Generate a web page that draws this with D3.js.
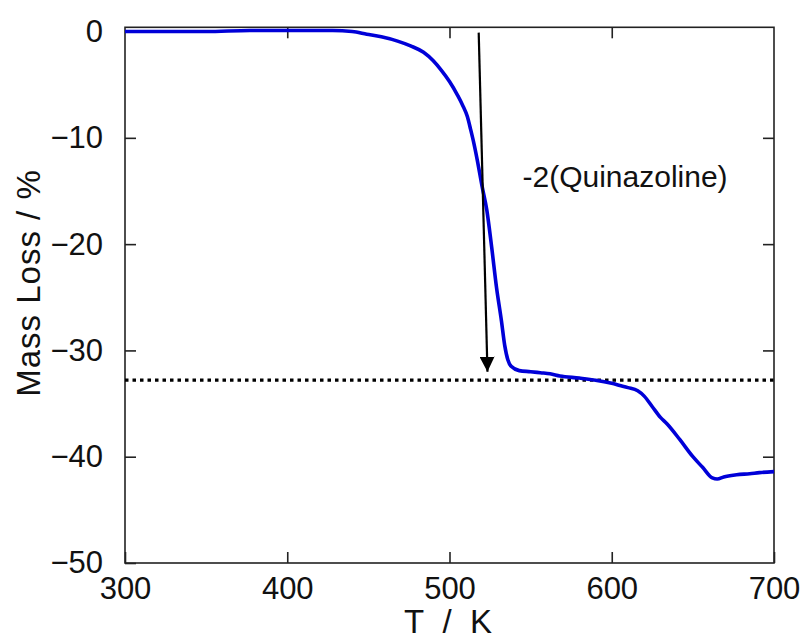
<!DOCTYPE html>
<html>
<head>
<meta charset="utf-8">
<script src="https://cdn.jsdelivr.net/npm/d3@7/dist/d3.min.js"></script>
<style>
  html, body { margin: 0; padding: 0; background: #fff; }
  svg { display: block; }
  text { font-family: "Liberation Sans", Arial, sans-serif; fill: #111; }
</style>
</head>
<body>
<svg id="chart" width="805" height="642"></svg>
<script>
// ---- data ----
const temperatureK = [300,350,377,400,428,440,449,458,468,476,484,490,495,500,505,508,511,513,515,517,520,523,526,529,532,534,536,538,543,550,556,562,568,580,590,600,605,610,616,620,625,630,634,642,650,656,662,665,669,677,685,691,700];
const massLoss = [0,0,0.1,0.1,0.1,0,-0.25,-0.5,-0.9,-1.35,-1.95,-2.75,-3.65,-4.7,-6.0,-6.9,-8.0,-9.2,-10.5,-12.0,-14.5,-16.8,-20.3,-24.1,-27.2,-29.5,-30.9,-31.5,-31.9,-32.0,-32.1,-32.2,-32.4,-32.6,-32.8,-33.1,-33.3,-33.5,-33.8,-34.3,-35.3,-36.3,-36.9,-38.4,-40.0,-41.0,-42.0,-42.1,-41.9,-41.7,-41.6,-41.5,-41.4];
const xTicks = [300,400,500,600,700];
const yTicks = [0,-10,-20,-30,-40,-50];
const referenceLevel = [-32.8];
const arrowStart = [518, -0.1];
const arrowEnd = [523.4, -32.0];
const annotation = { text: "-2(Quinazoline)", T: 545, m: -14.6 };
const xLabel = "T / K";
const yLabel = "Mass Loss / %";

// ---- layout ----
const svg = d3.select("#chart");
const mLeft = 125, mRight = 774, mTop = 27.3, mBottom = 563;
const x = d3.scaleLinear().domain([300, 700]).range([mLeft, mRight]);
const y = d3.scaleLinear().domain([-50, 0.4]).range([mBottom, mTop]);
const tickLen = 11;

// frame
svg.append("rect")
  .attr("x", mLeft).attr("y", mTop)
  .attr("width", mRight - mLeft).attr("height", mBottom - mTop)
  .attr("fill", "none").attr("stroke", "#222").attr("stroke-width", 1.6);

// axes (inward ticks)
const fmt = d => d < 0 ? "\u2212" + Math.abs(d) : String(d);
const bottomAxis = d3.axisBottom(x).tickValues(xTicks).tickSize(-tickLen).tickPadding(tickLen + 3).tickFormat(fmt);
const leftAxis = d3.axisLeft(y).tickValues(yTicks).tickSize(-tickLen).tickPadding(tickLen + 11).tickFormat(fmt);
const topAxis = d3.axisTop(x).tickValues(xTicks.slice(1, -1)).tickSize(-tickLen).tickFormat("");
const rightAxis = d3.axisRight(y).tickValues(yTicks.slice(1, -1)).tickSize(-tickLen).tickFormat("");

function styleAxis(g) {
  g.select(".domain").remove();
  g.selectAll(".tick line").attr("stroke", "#222").attr("stroke-width", 1.6);
  g.selectAll(".tick text").attr("font-family", "'Liberation Sans', Arial, sans-serif").attr("font-size", 31).attr("fill", "#111");
}
svg.append("g").attr("transform", `translate(0,${mBottom})`).call(bottomAxis).call(styleAxis);
svg.append("g").attr("transform", `translate(${mLeft},0)`).call(leftAxis).call(styleAxis);
svg.append("g").attr("transform", `translate(0,${mTop})`).call(topAxis).call(styleAxis);
svg.append("g").attr("transform", `translate(${mRight},0)`).call(rightAxis).call(styleAxis);

// dotted reference line
svg.selectAll(".ref").data(referenceLevel).enter().append("line")
  .attr("x1", mLeft).attr("x2", mRight)
  .attr("y1", d => y(d)).attr("y2", d => y(d))
  .attr("stroke", "#000").attr("stroke-width", 3.2)
  .attr("stroke-dasharray", "3.5,4");

// data curve
const line = d3.line().curve(d3.curveMonotoneX).x((d, i) => x(temperatureK[i])).y(d => y(d));
svg.append("path").datum(massLoss)
  .attr("d", line)
  .attr("fill", "none").attr("stroke", "#0000d8").attr("stroke-width", 3.6)
  .attr("stroke-linejoin", "round");

// arrow
svg.append("defs").append("marker")
  .attr("id", "head").attr("viewBox", "0 0 10 10")
  .attr("refX", 10).attr("refY", 5)
  .attr("markerWidth", 15).attr("markerHeight", 15)
  .attr("markerUnits", "userSpaceOnUse")
  .attr("orient", "auto")
  .append("path").attr("d", "M0,0 L10,5 L0,10 Z").attr("fill", "#000");
svg.append("line")
  .attr("x1", x(arrowStart[0])).attr("y1", y(arrowStart[1]))
  .attr("x2", x(arrowEnd[0])).attr("y2", y(arrowEnd[1]))
  .attr("stroke", "#000").attr("stroke-width", 2.2)
  .attr("marker-end", "url(#head)");

// annotation text
svg.append("text")
  .attr("x", x(annotation.T)).attr("y", y(annotation.m))
  .attr("font-size", 30)
  .text(annotation.text);

// axis titles
svg.append("text")
  .attr("x", 448).attr("y", 633)
  .attr("text-anchor", "middle")
  .attr("font-size", 33)
  .style("white-space", "pre")
  .text(xLabel.replace(/ /g, "\u00a0\u00a0"));
svg.append("text")
  .attr("transform", "translate(40,283) rotate(-90)")
  .attr("text-anchor", "middle")
  .attr("font-size", 33)
  .attr("letter-spacing", 1)
  .text(yLabel);
</script>
</body>
</html>
